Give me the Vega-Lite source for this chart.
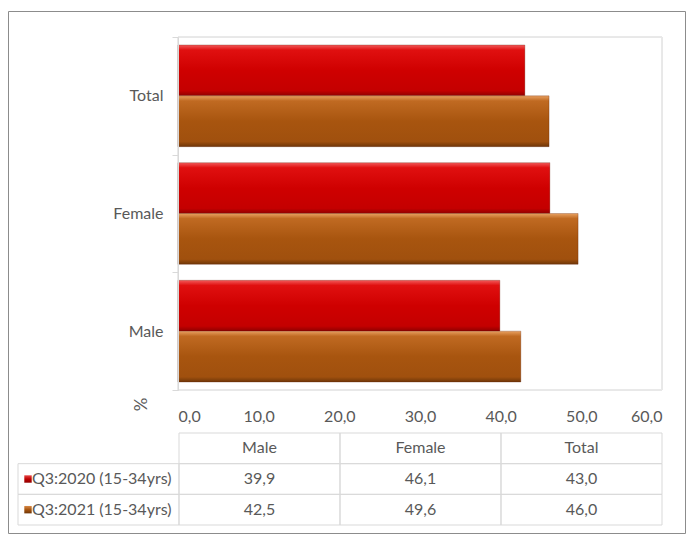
{
  "$schema": "https://vega.github.io/schema/vega-lite/v6.json",
  "width": 677,
  "height": 522,
  "autosize": "none",
  "padding": {"left": 8, "top": 11, "right": 11, "bottom": 3},
  "background": "white",
  "config": {
    "font": "Lato",
    "view": {"stroke": "#8c8c8c", "strokeWidth": 1},
    "locale": {"number": {"decimal": ",", "thousands": ".", "grouping": [3], "currency": ["", ""]}}
  },
  "data": {
    "values": [
      {"cat": "Male", "series": "Q3:2020 (15-34yrs)", "value": 39.9},
      {"cat": "Female", "series": "Q3:2020 (15-34yrs)", "value": 46.1},
      {"cat": "Total", "series": "Q3:2020 (15-34yrs)", "value": 43.0},
      {"cat": "Male", "series": "Q3:2021 (15-34yrs)", "value": 42.5},
      {"cat": "Female", "series": "Q3:2021 (15-34yrs)", "value": 49.6},
      {"cat": "Total", "series": "Q3:2021 (15-34yrs)", "value": 46.0}
    ]
  },
  "resolve": {"scale": {"x": "independent", "y": "independent"}},
  "layer": [
    {
      "layer": [
        {
          "mark": {"type": "rect", "fill": "transparent", "stroke": "#e8e8e8", "strokeWidth": 1},
          "encoding": {
            "x": {"datum": 0, "type": "quantitative"},
            "x2": {"datum": 60},
            "y": {"datum": "Total", "type": "nominal", "bandPosition": 0},
            "y2": {"datum": "Male", "bandPosition": 1}
          }
        },
        {
          "mark": {"type": "bar", "stroke": "#5a1a00", "strokeOpacity": 0.35, "strokeWidth": 0.8},
          "encoding": {
            "x": {
              "field": "value",
              "type": "quantitative",
              "scale": {"domain": [0, 60], "range": [170, 654], "nice": false, "zero": true},
              "axis": {
                "values": [0, 10, 20, 30, 40, 50, 60],
                "format": ".1f",
                "domain": false,
                "ticks": false,
                "grid": false,
                "labelPadding": 0,
                "offset": -125,
                "labelFontSize": 16,
                "labelColor": "#595959",
                "title": "%",
                "titleAngle": -90,
                "titleX": 133,
                "titleY": -4,
                "titleFontSize": 17,
                "titleFontWeight": "normal",
                "titleColor": "#595959",
                "titleAlign": "center",
                "titleBaseline": "middle"
              }
            },
            "y": {
              "field": "cat",
              "type": "nominal",
              "scale": {"domain": ["Total", "Female", "Male"], "range": [26, 379], "paddingInner": 0, "paddingOuter": 0},
              "axis": {
                "title": null,
                "tickBand": "extent",
                "domainColor": "#d9d9d9",
                "tickColor": "#d9d9d9",
                "tickSize": 6,
                "labelPadding": 9,
                "labelFontSize": 16,
                "labelColor": "#595959",
                "offset": -170
              }
            },
            "yOffset": {"field": "series", "type": "nominal", "scale": {"paddingInner": 0, "paddingOuter": 0.157}},
            "fill": {
              "condition": {
                "test": "datum.series == 'Q3:2020 (15-34yrs)'",
                "value": {"gradient": "linear", "x1": 0, "y1": 0, "x2": 0, "y2": 1, "stops": [
                  {"offset": 0, "color": "#f25a5a"},
                  {"offset": 0.1, "color": "#e01010"},
                  {"offset": 0.5, "color": "#cf0000"},
                  {"offset": 0.9, "color": "#c40000"},
                  {"offset": 1, "color": "#8f0000"}
                ]}
              },
              "value": {"gradient": "linear", "x1": 0, "y1": 0, "x2": 0, "y2": 1, "stops": [
                {"offset": 0, "color": "#e8a060"},
                {"offset": 0.1, "color": "#c06a22"},
                {"offset": 0.5, "color": "#a8550f"},
                {"offset": 0.9, "color": "#a0500e"},
                {"offset": 1, "color": "#6e3608"}
              ]}
            }
          }
        }
      ]
    },
    {
      "encoding": {
        "x": {
          "field": "cat",
          "type": "nominal",
          "scale": {"domain": ["label", "Male", "Female", "Total"], "range": [10, 654], "paddingInner": 0, "paddingOuter": 0},
          "axis": null
        },
        "y": {
          "field": "series",
          "type": "nominal",
          "scale": {"domain": ["header", "Q3:2020 (15-34yrs)", "Q3:2021 (15-34yrs)"], "range": [422, 514], "paddingInner": 0, "paddingOuter": 0},
          "axis": null
        }
      },
      "layer": [
        {"mark": {"type": "rect", "fill": "transparent", "stroke": "#d9d9d9", "strokeWidth": 1}},
        {
          "mark": {"type": "text", "fontSize": 16, "fill": "#595959"},
          "encoding": {"text": {"field": "value", "type": "quantitative", "format": ".1f"}}
        },
        {
          "transform": [{"filter": "datum.series == 'Q3:2020 (15-34yrs)'"}],
          "mark": {"type": "rect", "fill": "transparent", "stroke": "#d9d9d9", "strokeWidth": 1},
          "encoding": {"y": {"datum": "header", "type": "nominal"}}
        },
        {
          "transform": [{"filter": "datum.series == 'Q3:2020 (15-34yrs)'"}],
          "mark": {"type": "text", "fontSize": 16, "fill": "#595959"},
          "encoding": {"y": {"datum": "header", "type": "nominal"}, "text": {"field": "cat", "type": "nominal"}}
        },
        {
          "transform": [{"filter": "datum.cat == 'Male'"}],
          "mark": {"type": "rect", "fill": "transparent", "stroke": "#d9d9d9", "strokeWidth": 1},
          "encoding": {"x": {"datum": "label", "type": "nominal"}}
        },
        {
          "transform": [{"filter": "datum.cat == 'Male'"}],
          "mark": {"type": "text", "fontSize": 16, "fill": "#595959", "align": "left", "dx": 14},
          "encoding": {"x": {"datum": "label", "type": "nominal", "bandPosition": 0}, "text": {"field": "series", "type": "nominal"}}
        },
        {
          "transform": [{"filter": "datum.cat == 'Male'"}],
          "mark": {"type": "square", "size": 55, "xOffset": 10, "filled": true, "opacity": 1},
          "encoding": {
            "x": {"datum": "label", "type": "nominal", "bandPosition": 0},
            "fill": {
              "condition": {
                "test": "datum.series == 'Q3:2020 (15-34yrs)'",
                "value": {"gradient": "linear", "x1": 0, "y1": 0, "x2": 0, "y2": 1, "stops": [
                  {"offset": 0, "color": "#e84a4a"},
                  {"offset": 0.5, "color": "#c00000"},
                  {"offset": 1, "color": "#8f0000"}
                ]}
              },
              "value": {"gradient": "linear", "x1": 0, "y1": 0, "x2": 0, "y2": 1, "stops": [
                {"offset": 0, "color": "#d88a48"},
                {"offset": 0.5, "color": "#a8550f"},
                {"offset": 1, "color": "#6e3608"}
              ]}
            }
          }
        }
      ]
    }
  ]
}
